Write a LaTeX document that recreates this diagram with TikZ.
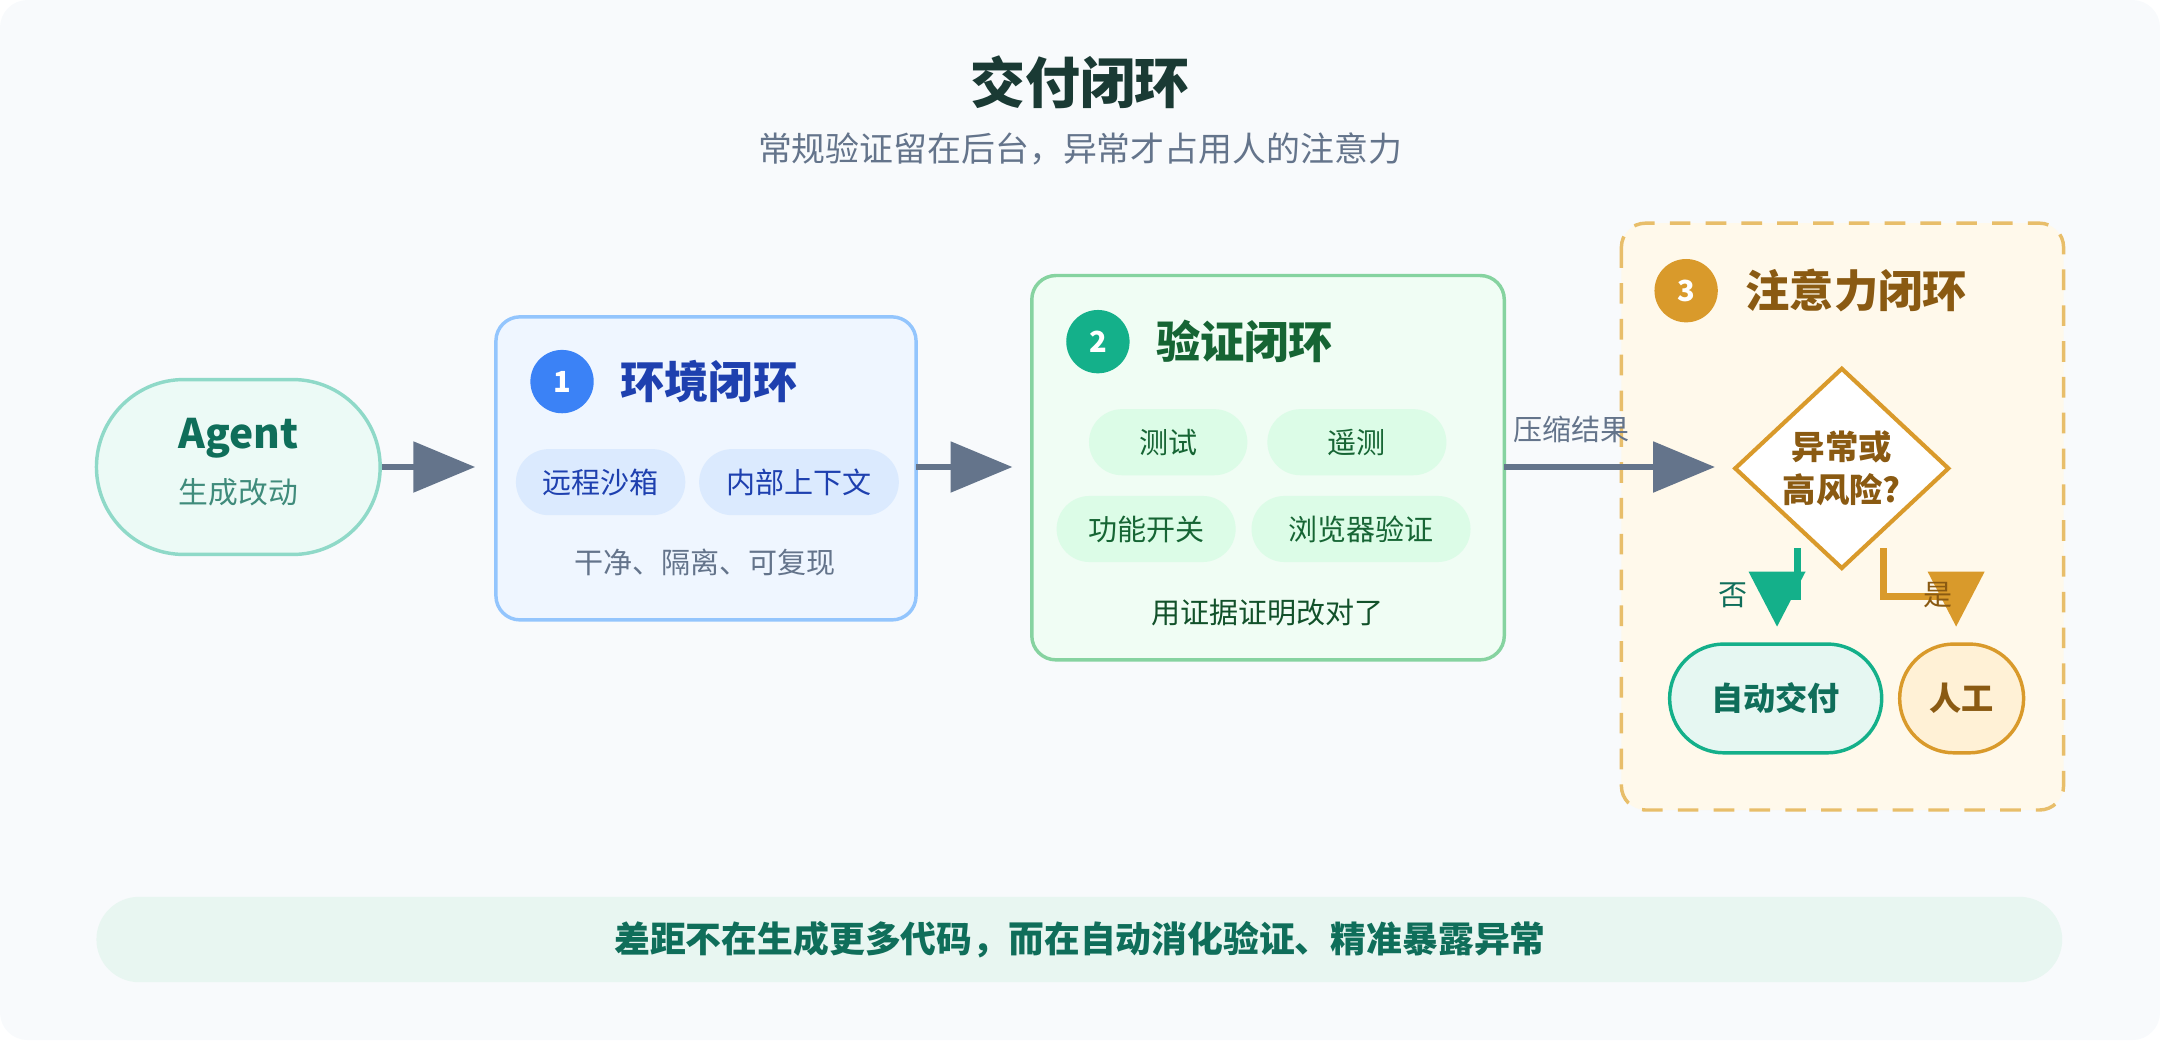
\documentclass[tikz,border=0pt]{standalone}
\usepackage{fontspec}
\setmainfont{Noto Sans CJK SC}
\usetikzlibrary{arrows.meta,positioning,shapes.geometric,calc}
\definecolor{bgc}{HTML}{F8FAFC}
\definecolor{greyt}{HTML}{64748B}
\definecolor{titlec}{HTML}{1A3A34}
\definecolor{tealc}{HTML}{14B08A}
\definecolor{teald}{HTML}{0F6E5A}
\definecolor{bluec}{HTML}{3B82F6}
\definecolor{blued}{HTML}{1E40AF}
\definecolor{greend}{HTML}{166534}
\definecolor{goldc}{HTML}{D99A2B}
\definecolor{goldd}{HTML}{8A5A12}
\definecolor{footc}{HTML}{E8F6F1}
\tikzset{
  chip/.style={rounded corners=0.48cm,minimum height=0.96cm,inner sep=0pt,font=\fontsize{12}{14}\selectfont},
  num/.style={circle,minimum size=0.92cm,inner sep=0pt,text=white,font=\bfseries\fontsize{12}{14}\selectfont},
  bigarrow/.style={draw=greyt,line width=0.1cm,-{Triangle[length=0.9cm,width=0.72cm]}},
  box/.style={rounded corners=0.35cm,line width=0.05cm},
}
\begin{document}
\begin{tikzpicture}[x=0.02cm,y=-0.02cm]
\useasboundingbox (0,0) rectangle (1568,755);
\fill[bgc,rounded corners=0.4cm] (0,0) rectangle (1568,755);

% title
\node[font=\bfseries\fontsize{22.7}{26}\selectfont,text=titlec] (title) at (784,60) {交付闭环};
\node[font=\fontsize{14}{17}\selectfont,text=greyt] (sub) at (784,108) {常规验证留在后台，异常才占用人的注意力};

% agent
\node[draw={rgb,255:red,143;green,217;blue,200},fill={rgb,255:red,236;green,250;blue,246},line width=0.05cm,rounded corners=1.27cm,minimum width=4.12cm,minimum height=2.54cm] (agent) at (173,339) {};
\node[font=\bfseries\fontsize{16.8}{19}\selectfont,text=teald] (agentt) at (173,318) {Agent};
\node[font=\fontsize{12.3}{15}\selectfont,text=teald!80] (agents) at (173,357) {生成改动};

% box 1
\draw[box,draw={rgb,255:red,147;green,197;blue,253},fill={rgb,255:red,239;green,246;blue,255}] (360,230) rectangle (665,450);
\node[num,fill=bluec] (n1) at (408,277) {1};
\node[font=\bfseries\fontsize{18.3}{21}\selectfont,text=blued,anchor=west] (t1) at (444,277) {环境闭环};
\node[chip,fill={rgb,255:red,219;green,234;blue,254},text=blued,minimum width=2.46cm] (c11) at (436,350) {远程沙箱};
\node[chip,fill={rgb,255:red,219;green,234;blue,254},text=blued,minimum width=2.9cm] (c12) at (580,350) {内部上下文};
\node[font=\fontsize{12}{14}\selectfont,text=greyt] (d1) at (512,408) {干净、隔离、可复现};

% box 2
\draw[box,draw={rgb,255:red,134;green,211;blue,160},fill={rgb,255:red,240;green,253;blue,244}] (749,200) rectangle (1092,479);
\node[num,fill=tealc] (n2) at (797,248) {2};
\node[font=\bfseries\fontsize{18.3}{21}\selectfont,text=greend,anchor=west] (t2) at (833,248) {验证闭环};
\node[chip,fill={rgb,255:red,220;green,252;blue,231},text=greend,minimum width=2.3cm] (c21) at (848,321) {测试};
\node[chip,fill={rgb,255:red,220;green,252;blue,231},text=greend,minimum width=2.6cm] (c22) at (985,321) {遥测};
\node[chip,fill={rgb,255:red,220;green,252;blue,231},text=greend,minimum width=2.6cm] (c23) at (832,384) {功能开关};
\node[chip,fill={rgb,255:red,220;green,252;blue,231},text=greend,minimum width=3.18cm] (c24) at (988,384) {浏览器验证};
\node[font=\fontsize{12}{14}\selectfont,text=greend!80!black] (d2) at (920,445) {用证据证明改对了};

% box 3
\draw[box,dashed,dash pattern=on 0.3cm off 0.22cm,draw={rgb,255:red,232;green,190;blue,106},fill={rgb,255:red,255;green,249;blue,235}] (1177,162) rectangle (1498,588);
\node[num,fill=goldc] (n3) at (1224,211) {3};
\node[font=\bfseries\fontsize{18.3}{21}\selectfont,text=goldd,anchor=west] (t3) at (1261,211) {注意力闭环};
\node[diamond,draw=goldc,fill=white,line width=0.06cm,minimum width=3.12cm,minimum height=2.92cm,inner sep=0pt] (risk) at (1337,340) {};
\node[font=\bfseries\fontsize{13.8}{18}\selectfont,text=goldd,align=center] (riskt) at (1337,340) {异常或\\高风险?};
\node[draw=tealc,fill={rgb,255:red,230;green,247;blue,242},line width=0.05cm,rounded corners=0.79cm,minimum width=3.08cm,minimum height=1.58cm,font=\bfseries\fontsize{13.3}{16}\selectfont,text=teald] (auto) at (1289,507) {自动交付};
\node[draw=goldc,fill={rgb,255:red,255;green,241;blue,214},line width=0.05cm,rounded corners=0.79cm,minimum width=1.8cm,minimum height=1.58cm,font=\bfseries\fontsize{13.3}{16}\selectfont,text=goldd] (human) at (1424,507) {人工};

% arcs
\coordinate (in1) at (345,339);
\coordinate (out1) at (665,339);
\coordinate (in2) at (735,339);
\coordinate (out2) at (1092,339);
\coordinate (in3) at (1245,339);
\draw[bigarrow] (agent.east) -- (in1);
\draw[bigarrow] (out1) -- (in2);
\draw[bigarrow] (out2) -- (in3);
\node[font=\fontsize{12}{14}\selectfont,text=greyt] (lab) at (1141,312) {压缩结果};

\coordinate (no1) at (1305,398);
\coordinate (yes1) at (1367,398);
\draw[tealc,line width=0.1cm,-{Triangle[length=0.8cm,width=0.8cm]}] (no1) -- (1305,433) -- (1290,433) -- (1290,455);
\draw[goldc,line width=0.1cm,-{Triangle[length=0.8cm,width=0.8cm]}] (yes1) -- (1367,433) -- (1420,433) -- (1420,455);
\node[font=\fontsize{12}{14}\selectfont,text=teald] (no) at (1258,432) {否};
\node[font=\fontsize{12}{14}\selectfont,text=goldd] (yes) at (1407,432) {是};

% footer
\fill[footc,rounded corners=0.62cm] (70,651) rectangle (1497,713);
\node[font=\bfseries\fontsize{14.8}{17}\selectfont,text=teald] (foot) at (784,682) {差距不在生成更多代码，而在自动消化验证、精准暴露异常};
\end{tikzpicture}
\end{document}
